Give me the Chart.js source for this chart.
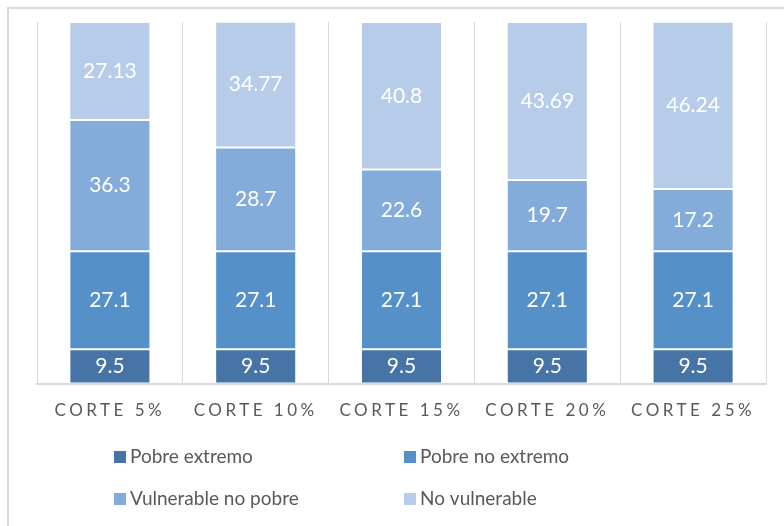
<!DOCTYPE html>
<html>
<head>
<meta charset="utf-8">
<script src="https://cdn.jsdelivr.net/npm/chart.js@4/dist/chart.umd.min.js"></script>
<style>
  html, body { margin: 0; padding: 0; background: #fff; }
  #frame {
    position: absolute; left: 7px; top: 7px; width: 777px; height: 519px;
    border-top: 2px solid #d9d9d9; border-left: 2px solid #d9d9d9;
  }
  #myChart { position: absolute; left: 0; top: 0; }
</style>
</head>
<body>
<div id="frame"></div>
<canvas id="myChart" width="784" height="526"></canvas>
<script>
// Data
const categories = ['CORTE 5%', 'CORTE 10%', 'CORTE 15%', 'CORTE 20%', 'CORTE 25%'];
const pobreExtremo = [9.5, 9.5, 9.5, 9.5, 9.5];
const pobreNoExtremo = [27.1, 27.1, 27.1, 27.1, 27.1];
const vulnerableNoPobre = [36.3, 28.7, 22.6, 19.7, 17.2];
const noVulnerable = [27.13, 34.77, 40.8, 43.69, 46.24];

const seriesNames = ['Pobre extremo', 'Pobre no extremo', 'Vulnerable no pobre', 'No vulnerable'];
const colors = ['#4674a6', '#5590c8', '#84acdb', '#b7cce8'];

const FONT = 'Lato, "Open Sans", sans-serif';
const TEXT_GRAY = '#595959';

// letter spacing for the axis labels, reset before bars get their labels
const spacingPlugin = {
    id: 'spacing',
    beforeDraw(chart) {
        chart.ctx.letterSpacing = '3.5px';
    },
    beforeDatasetsDraw(chart) {
        chart.ctx.letterSpacing = '0px';
    }
};

// values in the middle of each segment
const barLabels = {
    id: 'barLabels',
    afterDatasetsDraw(chart) {
        const ctx = chart.ctx;
        ctx.save();
        ctx.letterSpacing = '0px';
        ctx.fillStyle = '#ffffff';
        ctx.font = '21px ' + FONT;
        ctx.textAlign = 'center';
        ctx.textBaseline = 'middle';
        chart.data.datasets.forEach((ds, i) => {
            const meta = chart.getDatasetMeta(i);
            meta.data.forEach((bar, j) => {
                const y = (bar.y + bar.base) / 2;
                ctx.fillText(String(ds.data[j]), bar.x, y);
            });
        });
        ctx.restore();
    }
};

// two column legend at the bottom
const gridLegend = {
    id: 'gridLegend',
    afterDraw(chart) {
        const ctx = chart.ctx;
        const cols = [114, 404];
        const rows = [457, 499];
        ctx.save();
        ctx.letterSpacing = '0px';
        ctx.font = '19px ' + FONT;
        ctx.textAlign = 'left';
        ctx.textBaseline = 'middle';
        chart.data.datasets.forEach((ds, i) => {
            const x = cols[i % 2];
            const y = rows[Math.floor(i / 2)];
            ctx.fillStyle = ds.backgroundColor;
            ctx.fillRect(x, y - 6, 12, 12);
            ctx.fillStyle = TEXT_GRAY;
            ctx.fillText(ds.label, x + 16, y);
        });
        ctx.restore();
    }
};

const series = [pobreExtremo, pobreNoExtremo, vulnerableNoPobre, noVulnerable];

const chartData = {
    labels: categories,
    datasets: series.map((values, i) => ({
        label: seriesNames[i],
        data: values,
        backgroundColor: colors[i],
        borderColor: 'rgba(255,255,255,0.25)',
        borderWidth: 1,
        borderSkipped: false,
        categoryPercentage: 1,
        barPercentage: 0.556
    }))
};

const config = {
    type: 'bar',
    data: chartData,
    options: {
        responsive: false,
        devicePixelRatio: 1,
        animation: false,
        layout: {
            padding: { left: 37, right: 18, top: 22, bottom: 88 }
        },
        scales: {
            x: {
                stacked: true,
                grid: {
                    color: '#d9d9d9',
                    lineWidth: 1,
                    drawTicks: false
                },
                border: { color: '#d9d9d9', width: 2 },
                ticks: {
                    color: TEXT_GRAY,
                    font: { family: FONT, size: 17 },
                    padding: 17
                }
            },
            y: {
                stacked: true,
                display: false,
                min: 0,
                max: 100
            }
        },
        plugins: {
            legend: { display: false },
            tooltip: { enabled: false }
        }
    },
    plugins: [spacingPlugin, barLabels, gridLegend]
};

const chart = new Chart(document.getElementById('myChart'), config);
</script>
</body>
</html>
